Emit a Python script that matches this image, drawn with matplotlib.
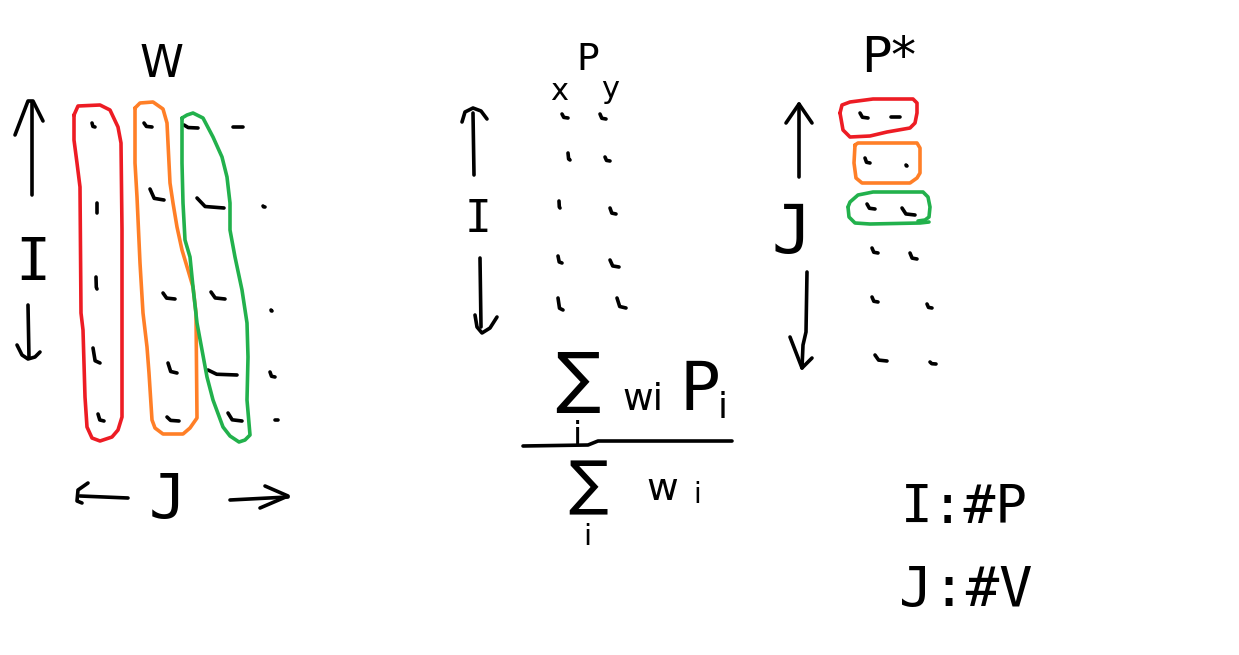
import matplotlib.pyplot as plt

# 画布尺寸 (像素)
W_PX, H_PX = 1239, 655
LW = 2.6
RED, ORANGE, GREEN = "#ED1C24", "#FF7F27", "#22B14C"

# 矩阵 W 中的小笔画 (起点 x0,y0 -> 终点 x1,y1)
w_x0 = [92, 144, 184, 233, 97, 150, 197, 263, 96, 163, 211, 271, 93, 168, 208, 270, 98, 167, 228, 275]
w_y0 = [123, 123, 125, 127, 203, 189, 198, 206, 277, 293, 292, 310, 348, 363, 370, 372, 414, 417, 413, 420]
w_x1 = [95, 152, 198, 243, 97, 164, 224, 265, 97, 175, 225, 272, 100, 177, 237, 275, 104, 179, 242, 278]
w_y1 = [127, 127, 128, 127, 213, 200, 208, 207, 289, 299, 299, 311, 363, 373, 375, 377, 421, 421, 421, 420]

# 矩阵 P (x, y 两列)
p_x0 = [562, 568, 559, 558, 558, 600, 605, 610, 610, 617]
p_y0 = [114, 153, 201, 256, 298, 114, 157, 208, 260, 298]
p_x1 = [568, 570, 560, 562, 563, 606, 610, 616, 619, 626]
p_y1 = [118, 160, 208, 263, 310, 119, 161, 214, 267, 308]

# 矩阵 P*
ps_x0 = [860, 865, 867, 872, 872, 875, 891, 906, 902, 910, 927, 930]
ps_y0 = [113, 158, 204, 248, 297, 355, 117, 165, 208, 253, 304, 362]
ps_x1 = [868, 870, 875, 878, 878, 887, 900, 907, 915, 917, 932, 936]
ps_y1 = [118, 163, 209, 253, 302, 361, 117, 166, 215, 259, 308, 364]

# 彩色圈 (W 的三列)
red_w = [(74, 115), (78, 106), (100, 105), (110, 110), (118, 127), (121, 143), (122, 230), (122, 417),
         (118, 430), (112, 437), (100, 441), (92, 438), (87, 427), (85, 397), (83, 330), (81, 313),
         (80, 187), (77, 163), (74, 140), (74, 115)]
orange_w = [(135, 108), (140, 103), (153, 102), (163, 109), (167, 123), (168, 143), (170, 183), (173, 203),
            (177, 227), (182, 250), (188, 270), (193, 287), (196, 313), (197, 418), (190, 428), (183, 434),
            (163, 434), (155, 428), (152, 420), (149, 373), (147, 347), (143, 313), (140, 263), (137, 197),
            (135, 163), (135, 108)]
green_w = [(182, 118), (187, 115), (193, 113), (203, 118), (213, 137), (222, 157), (227, 177), (230, 203),
           (230, 230), (235, 257), (242, 290), (247, 323), (248, 357), (247, 400), (250, 435), (245, 440),
           (239, 442), (230, 436), (223, 427), (213, 400), (207, 377), (202, 350), (197, 323), (193, 287),
           (190, 257), (185, 240), (183, 203), (182, 163), (182, 118)]

# 彩色圈 (P* 的三行)
red_p = [(840, 113), (842, 105), (850, 102), (873, 99), (913, 99), (917, 103), (917, 113), (915, 123),
         (910, 128), (887, 132), (870, 136), (850, 137), (843, 130), (840, 113)]
orange_p = [(855, 145), (858, 143), (917, 143), (920, 148), (920, 173), (917, 178), (910, 183), (862, 183),
            (856, 178), (854, 163), (855, 145)]
green_p = [(848, 207), (850, 202), (858, 195), (873, 192), (923, 192), (928, 197), (930, 207), (929, 217),
           (925, 220), (918, 221)]
green_p2 = [(929, 222), (920, 223), (870, 224), (855, 223), (849, 217), (848, 207)]

# 箭头 (折线)
arrows = [
    [(32, 195), (32, 102)], [(15, 135), (28, 101), (33, 101), (43, 121)],
    [(28, 305), (29, 358)], [(17, 345), (22, 355), (28, 359), (35, 357), (40, 352)],
    [(80, 496), (128, 498)], [(88, 483), (78, 490), (77, 501), (82, 503)],
    [(230, 500), (288, 497)], [(265, 486), (288, 496), (260, 508)],
    [(474, 175), (473, 113)], [(462, 122), (465, 112), (473, 108), (481, 111), (487, 119)],
    [(480, 258), (481, 327)], [(475, 315), (477, 327), (482, 333), (490, 328), (497, 317)],
    [(799, 177), (799, 104)], [(786, 123), (799, 104), (812, 123)],
    [(807, 272), (806, 332), (803, 345), (802, 368)], [(790, 337), (802, 368), (812, 358)],
    [(523, 446), (588, 445), (598, 441), (732, 441)],
]


def stroke(ax, pts, color="black", lw=LW):
    xs = [p[0] for p in pts]
    ys = [p[1] for p in pts]
    ax.plot(xs, ys, color=color, lw=lw, solid_capstyle="round", solid_joinstyle="round")


def ticks(ax, x0, y0, x1, y1):
    for a, b, c, d in zip(x0, y0, x1, y1):
        mx = a + (c - a) * 0.3
        my = b + (d - b) * 0.85
        ax.plot([a, mx, c], [b, my, d], color="black", lw=LW,
                solid_capstyle="round", solid_joinstyle="round")


plt.rcParams["mathtext.fontset"] = "dejavusans"

fig = plt.figure(figsize=(W_PX / 100, H_PX / 100), dpi=100)
ax = fig.add_axes([0, 0, 1, 1])
ax.set_xlim(0, W_PX)
ax.set_ylim(H_PX, 0)
ax.axis("off")

ticks(ax, w_x0, w_y0, w_x1, w_y1)
ticks(ax, p_x0, p_y0, p_x1, p_y1)
ticks(ax, ps_x0, ps_y0, ps_x1, ps_y1)

stroke(ax, red_w, RED)
stroke(ax, orange_w, ORANGE)
stroke(ax, green_w, GREEN)
stroke(ax, red_p, RED)
stroke(ax, orange_p, ORANGE)
stroke(ax, green_p, GREEN)
stroke(ax, green_p2, GREEN)

for a in arrows:
    stroke(ax, a)

sans = "DejaVu Sans"
mono = "DejaVu Sans Mono"
kw = dict(ha="center", va="baseline", color="black")

ax.text(162, 77, "W", fontsize=32, family=sans, **kw)
ax.text(33, 280, "I", fontsize=42, family=mono, **kw)
ax.text(167, 518, "J", fontsize=45, family=mono, **kw)

ax.text(588, 70, "P", fontsize=27, family=sans, **kw)
ax.text(559, 100, "x", fontsize=22, family=sans, **kw)
ax.text(610, 98, "y", fontsize=22, family=sans, **kw)
ax.text(478, 232, "I", fontsize=32, family=mono, **kw)

# 分数: Σ_i w_i P_i / Σ_i w_i
ax.text(578, 449, r"$\sum_{\mathrm{i}}$", fontsize=34, ha="center", va="bottom", color="black")
ax.text(643, 410, "wi", fontsize=27, family=sans, **kw)
ax.text(700, 410, "P", fontsize=48, family=sans, **kw)
ax.text(723, 418, "i", fontsize=26, family=sans, **kw)
ax.text(588, 548, r"$\sum_{\mathrm{i}}$", fontsize=30, ha="center", va="bottom", color="black")
ax.text(662, 500, "w", fontsize=28, family=sans, **kw)
ax.text(697, 503, "i", fontsize=20, family=sans, **kw)

ax.text(889, 72, "P*", fontsize=36, family=sans, **kw)
ax.text(792, 253, "J", fontsize=48, family=mono, **kw)

ax.text(964, 523, "I:#P", fontsize=38, family=mono, **kw)
ax.text(966, 606, "J:#V", fontsize=40, family=mono, **kw)

fig.savefig("out.png", dpi=100, facecolor="white")
